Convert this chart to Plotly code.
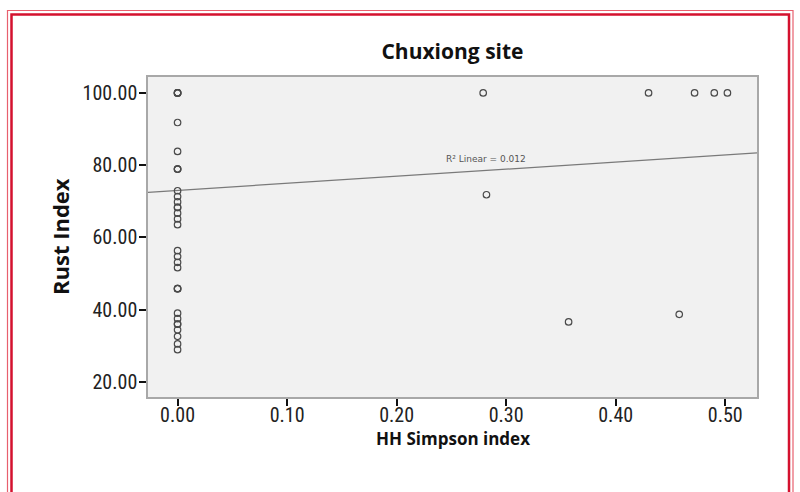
import plotly.graph_objects as go

# ---- data ----
simpson = [0.0]*4 + [0.0, 0.0] + [0.0]*3 + [0.0]*8 + [0.0]*4 + [0.0]*3 + [0.0]*8 + \
          [0.279, 0.282, 0.357, 0.43, 0.472, 0.49, 0.502, 0.458]
rust = [100, 100, 100, 100,
        91.8, 83.8,
        78.9, 78.9, 78.9,
        72.9, 71.3, 69.8, 68.3, 68.3, 66.7, 65.1, 63.5,
        56.3, 54.7, 53.1, 51.6,
        45.8, 45.8, 45.8,
        39.0, 37.5, 36.0, 36.0, 34.4, 32.6, 30.5, 28.9,
        100, 71.8, 36.6, 100, 100, 100, 100, 38.7]
fit_intercept = 73.0
fit_slope = 19.6
r2_text = "R² Linear = 0.012"
x_title = "HH Simpson index"
y_title = "Rust Index"
chart_title = "Chuxiong site"
x_ticks = [0.0, 0.1, 0.2, 0.3, 0.4, 0.5]
y_ticks = [20, 40, 60, 80, 100]
x_range = [-0.027, 0.529]
y_range = [15.8, 104.4]

# ---- layout geometry (pixels) ----
W, H = 800, 492
L, R, T, B = 148, 43, 77, 95
PW, PH = W - L - R, H - T - B

def px(x):
    return (x - L) / PW

def py(y):
    return (H - B - y) / PH

fit_x = x_range
fit_y = [fit_intercept + fit_slope * v for v in fit_x]

fig = go.Figure()
fig.add_trace(go.Scatter(x=fit_x, y=fit_y, mode="lines",
                         line=dict(color="#7a7a7a", width=1.3),
                         hoverinfo="skip", showlegend=False))
fig.add_trace(go.Scatter(x=simpson, y=rust, mode="markers",
                         marker=dict(symbol="circle-open", size=6.5,
                                     color="#4a4a4a", line=dict(width=1.2)),
                         showlegend=False))

tickfont = dict(family="Liberation Sans Narrow, Arial Narrow, Roboto Condensed, DejaVu Sans Condensed, sans-serif",
                size=20, color="#222", weight="normal")

fig.update_xaxes(range=x_range, tickvals=x_ticks,
                 ticktext=[f"{v:.2f}" for v in x_ticks],
                 ticks="outside", ticklen=7, tickwidth=1.5, tickcolor="#111",
                 ticklabelstandoff=-8,
                 showgrid=False, zeroline=False,
                 showline=True, linecolor="#a8a8a8", linewidth=1.5, mirror=True,
                 tickfont=tickfont)
fig.update_yaxes(range=y_range, tickvals=y_ticks,
                 ticktext=[f"{v:.2f}" for v in y_ticks],
                 ticks="outside", ticklen=7, tickwidth=1.5, tickcolor="#111",
                 ticklabelstandoff=-2,
                 showgrid=False, zeroline=False,
                 showline=True, linecolor="#a8a8a8", linewidth=1.5, mirror=True,
                 tickfont=tickfont)

shapes = [
    # outer thin red border
    dict(type="path", xref="paper", yref="paper",
         path=f"M {px(7.5)} {py(500)} L {px(7.5)} {py(10.5)} L {px(793)} {py(10.5)} L {px(793)} {py(500)}",
         line=dict(color="#e8606e", width=1.2)),
    # inner thick red border
    dict(type="path", xref="paper", yref="paper",
         path=f"M {px(11.5)} {py(500)} L {px(11.5)} {py(14.5)} L {px(789)} {py(14.5)} L {px(789)} {py(500)}",
         line=dict(color="#d4112e", width=2.5)),
]

bold = dict(family="Open Sans, Noto Sans, sans-serif", color="#111", weight="bold")

fig.update_layout(
    width=W, height=H,
    margin=dict(l=L, r=R, t=T, b=B),
    paper_bgcolor="white", plot_bgcolor="#f1f1f1",
    shapes=shapes,
    title=dict(text=chart_title, x=452.5 / W, xanchor="center",
               y=1 - 52 / H, yanchor="middle",
               font=dict(size=21, **bold)),
    annotations=[
        dict(text=r2_text, xref="paper", yref="paper",
             x=px(486), y=py(152), showarrow=False,
             font=dict(family="DejaVu Sans, sans-serif", size=9, color="#555")),
        dict(text=x_title, xref="paper", yref="paper",
             x=px(452.5), y=py(438), xanchor="center", yanchor="middle",
             showarrow=False, font=dict(size=17, **bold)),
        dict(text=y_title, xref="paper", yref="paper", textangle=-90,
             x=px(60), y=py(237), xanchor="center", yanchor="middle",
             showarrow=False, font=dict(size=22, **bold)),
    ],
)

fig.write_html("out.html")
